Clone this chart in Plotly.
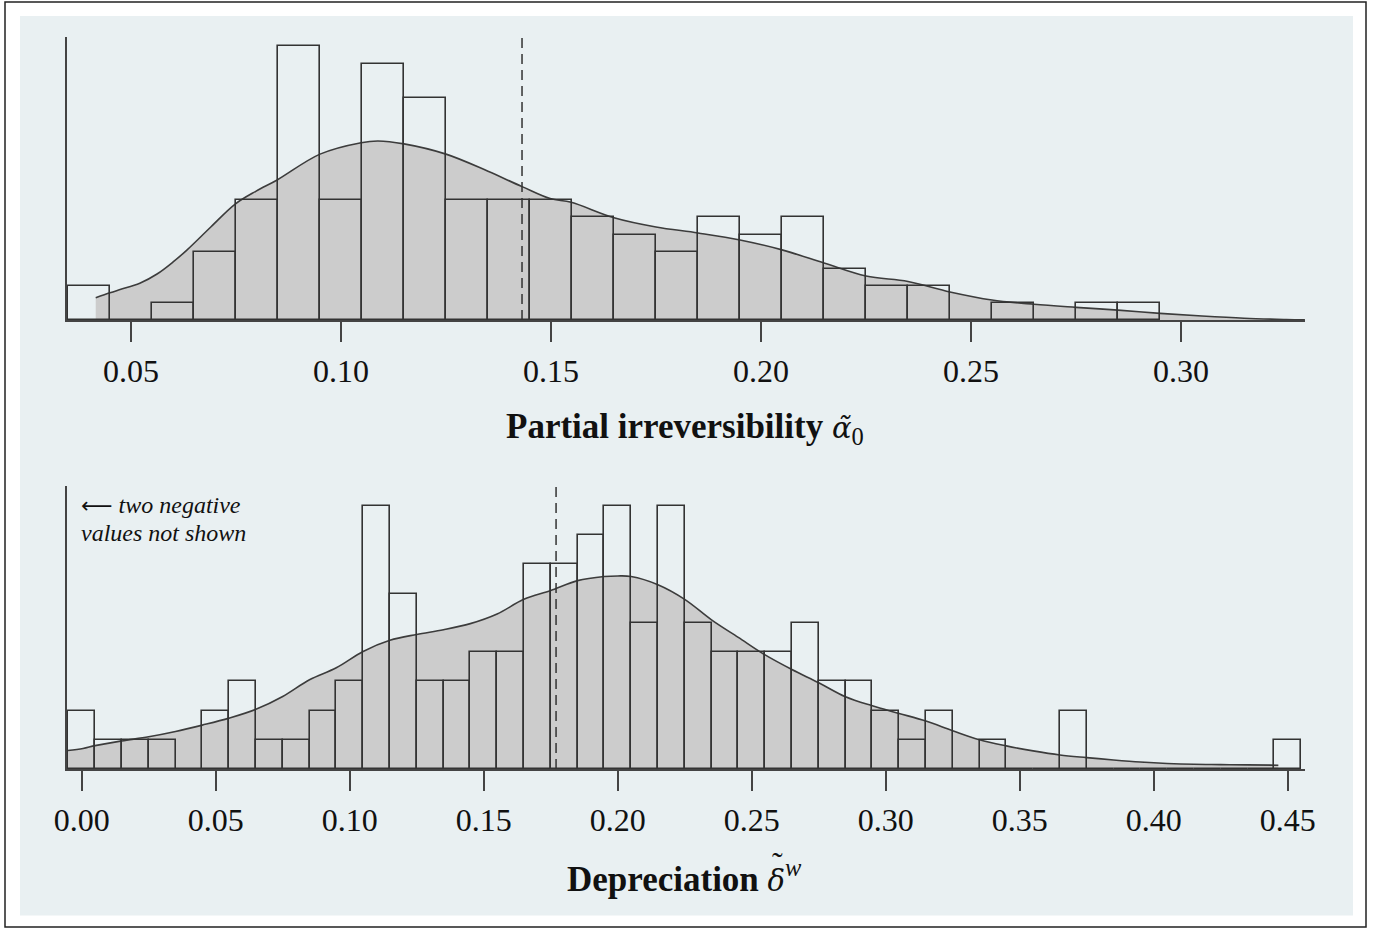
import plotly.graph_objects as go

# ---------------- data ----------------
# Top panel: partial irreversibility (bin centres, width 0.01)
alpha_bins = [0.04, 0.05, 0.06, 0.07, 0.08, 0.09, 0.10, 0.11, 0.12, 0.13, 0.14, 0.15, 0.16,
              0.17, 0.18, 0.19, 0.20, 0.21, 0.22, 0.23, 0.24, 0.25, 0.26, 0.27, 0.28, 0.29]
alpha_counts = [2, 0, 1, 4, 7, 16, 7, 15, 13, 7, 7, 7, 6,
                5, 4, 6, 5, 6, 3, 2, 2, 0, 1, 0, 1, 1]
alpha_kde_x = [0.0416, 0.0450, 0.0474, 0.0521, 0.0562, 0.0601, 0.0633, 0.0690, 0.0748, 0.0798,
               0.0848, 0.0950, 0.1048, 0.1088,
               0.1150, 0.1250, 0.1350, 0.1431, 0.1498, 0.1548, 0.1650, 0.1750, 0.1850, 0.1950,
               0.2050, 0.2150, 0.2250, 0.2350, 0.2450, 0.2550, 0.2650, 0.2750, 0.2850, 0.2950,
               0.3050, 0.3150, 0.3250, 0.3295]
alpha_kde_y = [1.30, 1.59, 1.78, 2.15, 2.69, 3.41, 4.09, 5.44, 6.78, 7.54,
               8.19, 9.70, 10.37, 10.47,
               10.30, 9.70, 8.70, 7.80, 7.10, 6.88, 5.98, 5.44, 5.09, 4.68,
               4.10, 3.33, 2.57, 2.25, 1.64, 1.17, 0.92, 0.74, 0.58, 0.39,
               0.23, 0.10, 0.03, 0.01]
alpha_mean = 0.1431

# Bottom panel: depreciation (bin centres, width 0.01)
delta_bins = [0.00, 0.01, 0.02, 0.03, 0.04, 0.05, 0.06, 0.07, 0.08, 0.09, 0.10, 0.11, 0.12,
              0.13, 0.14, 0.15, 0.16, 0.17, 0.18, 0.19, 0.20, 0.21, 0.22, 0.23, 0.24, 0.25,
              0.26, 0.27, 0.28, 0.29, 0.30, 0.31, 0.32, 0.33, 0.34, 0.35, 0.36, 0.37, 0.38,
              0.39, 0.40, 0.41, 0.42, 0.43, 0.44, 0.45]
delta_counts = [2, 1, 1, 1, 0, 2, 3, 1, 1, 2, 3, 9, 6,
                3, 3, 4, 4, 7, 7, 8, 9, 5, 9, 5, 4, 4,
                4, 5, 3, 3, 2, 1, 2, 0, 1, 0, 0, 2, 0,
                0, 0, 0, 0, 0, 0, 1]
delta_kde_x = [-0.0052, 0.0005, 0.0050, 0.0150, 0.0250, 0.0350, 0.0450, 0.0550, 0.0650, 0.0750,
               0.0850, 0.0950, 0.1050, 0.1150, 0.1250, 0.1350, 0.1450, 0.1550, 0.1650, 0.1750,
               0.1850, 0.1950, 0.2000, 0.2050, 0.2150, 0.2250, 0.2350, 0.2450, 0.2550, 0.2650,
               0.2750, 0.2850, 0.2950, 0.3050, 0.3150, 0.3250, 0.3350, 0.3450, 0.3550, 0.3650,
               0.3750, 0.3850, 0.3950, 0.4050, 0.4150, 0.4250, 0.4350, 0.4465]
delta_kde_y = [0.63, 0.70, 0.80, 0.96, 1.10, 1.28, 1.50, 1.74, 2.04, 2.48,
               3.05, 3.46, 4.02, 4.40, 4.60, 4.76, 4.97, 5.30, 5.80, 6.10,
               6.44, 6.58, 6.60, 6.58, 6.30, 5.80, 5.10, 4.50, 3.90, 3.40,
               2.95, 2.47, 2.16, 1.90, 1.64, 1.31, 1.00, 0.79, 0.62, 0.48,
               0.39, 0.31, 0.24, 0.19, 0.16, 0.15, 0.14, 0.13]
delta_mean = 0.177

alpha_ticks = [0.05, 0.10, 0.15, 0.20, 0.25, 0.30]
delta_ticks = [0.00, 0.05, 0.10, 0.15, 0.20, 0.25, 0.30, 0.35, 0.40, 0.45]

# ---------------- styling ----------------
W, H = 1382, 929
BG = "#e9f0f2"
GRAY = "#cccccc"
LINE = "#3c3c3c"
FONT = "Liberation Serif"
TXT = "#111111"

def fx(px):
    return px / W

def fy(py):
    return 1 - py / H

fig = go.Figure()

# KDE fills on base axes
fig.add_trace(go.Scatter(x=alpha_kde_x, y=alpha_kde_y, mode="lines", fill="tozeroy",
                         fillcolor=GRAY, line=dict(color=LINE, width=1.6, shape="spline"),
                         xaxis="x", yaxis="y", showlegend=False, hoverinfo="skip"))
fig.add_trace(go.Scatter(x=delta_kde_x, y=delta_kde_y, mode="lines", fill="tozeroy",
                         fillcolor=GRAY, line=dict(color=LINE, width=1.6, shape="spline"),
                         xaxis="x2", yaxis="y2", showlegend=False, hoverinfo="skip"))
# Histogram outlines on overlay axes (drawn above the KDE fill)
fig.add_trace(go.Bar(x=alpha_bins, y=alpha_counts, width=0.01,
                     marker=dict(color="rgba(0,0,0,0)", line=dict(color="#333333", width=1.6)),
                     xaxis="x3", yaxis="y3", showlegend=False))
fig.add_trace(go.Bar(x=delta_bins, y=delta_counts, width=0.01,
                     marker=dict(color="rgba(0,0,0,0)", line=dict(color="#333333", width=1.6)),
                     xaxis="x4", yaxis="y4", showlegend=False))

top_dom = [fy(320), fy(37)]
bot_dom = [fy(769), fy(486)]
xdom = [fx(67), fx(1305)]
a_range = [0.05 - (131 - 67) / 4200, 0.05 + (1305 - 131) / 4200]
d_range = [(67 - 81.7) / 2680, (1305 - 81.7) / 2680]
a_yr = [0, 283 / 17.1]
d_yr = [0, 283 / 29.25]

xcommon = dict(showgrid=False, zeroline=False, showline=True, linecolor="#444444", linewidth=1.5,
               ticks="outside", ticklen=20, tickwidth=1.5, tickcolor="#444444",
               ticklabelstandoff=2, automargin=False,
               tickfont=dict(family=FONT, size=32, color=TXT), mirror=False)
ycommon = dict(showgrid=False, zeroline=False, showline=True, linecolor="#444444", linewidth=1.5,
               showticklabels=False, ticks="", automargin=False)
hidden = dict(visible=False, automargin=False, showgrid=False, zeroline=False)

fig.update_layout(
    template="none",
    width=W, height=H, margin=dict(l=0, r=0, t=0, b=0, pad=0, autoexpand=False),
    paper_bgcolor="white", plot_bgcolor="white", barmode="overlay", bargap=0,
    xaxis=dict(domain=xdom, range=a_range, anchor="y", tickvals=alpha_ticks,
               ticktext=[f"{v:.2f}" for v in alpha_ticks], **xcommon),
    yaxis=dict(domain=top_dom, range=a_yr, anchor="x", **ycommon),
    xaxis2=dict(domain=xdom, range=d_range, anchor="y2", tickvals=delta_ticks,
                ticktext=[f"{v:.2f}" for v in delta_ticks], **xcommon),
    yaxis2=dict(domain=bot_dom, range=d_yr, anchor="x2", **ycommon),
    xaxis3=dict(overlaying="x", range=a_range, anchor="y3", **hidden),
    yaxis3=dict(overlaying="y", range=a_yr, anchor="x3", **hidden),
    xaxis4=dict(overlaying="x2", range=d_range, anchor="y4", **hidden),
    yaxis4=dict(overlaying="y2", range=d_yr, anchor="x4", **hidden),
    font=dict(family=FONT, color=TXT),
)

shapes = [
    # outer frame
    dict(type="rect", xref="paper", yref="paper", x0=fx(5), x1=fx(1366), y0=fy(927), y1=fy(2),
         line=dict(color="#222222", width=1.5), fillcolor="white", layer="below"),
    # light background region
    dict(type="rect", xref="paper", yref="paper", x0=fx(20), x1=fx(1353), y0=fy(915.5), y1=fy(16),
         line=dict(width=0), fillcolor=BG, layer="below"),
    # mean lines
    dict(type="line", xref="x", yref="y domain", x0=alpha_mean, x1=alpha_mean, y0=0, y1=1,
         line=dict(color="#333333", width=1.5, dash="10px,6px")),
    dict(type="line", xref="x2", yref="y2 domain", x0=delta_mean, x1=delta_mean, y0=0, y1=1,
         line=dict(color="#333333", width=1.5, dash="10px,6px")),
]
fig.update_layout(shapes=shapes)

def ann(text, x, y, size, xanchor="left", yanchor="middle", align="left"):
    fig.add_annotation(xref="paper", yref="paper", x=fx(x), y=fy(y), showarrow=False,
                       text=text, align=align, xanchor=xanchor, yanchor=yanchor,
                       font=dict(family=FONT, size=size, color=TXT))

MATH = "font-family:DejaVu Serif;font-size:29px"
# Titles
ann("<b>Partial irreversibility</b> <span style='%s'><i>α\u0303</i></span><sub>0</sub>" % MATH,
    685, 428, 35, xanchor="center")
ann("<b>Depreciation</b> <span style='%s'><i>δ</i></span><sup><i>w</i></sup>" % MATH,
    684, 876, 35, xanchor="center")
ann("˜", 777, 863, 32, xanchor="center")
# Note
ann("<i><span style='font-family:DejaVu Sans;font-size:22px'>⟵</span> two negative</i>",
    79, 505, 24)
ann("<i>values not shown</i>", 79, 533, 24)

fig.write_html("out.html", config={"displayModeBar": False},
               post_script="document.body.style.margin='0';document.body.style.overflow='hidden';")
